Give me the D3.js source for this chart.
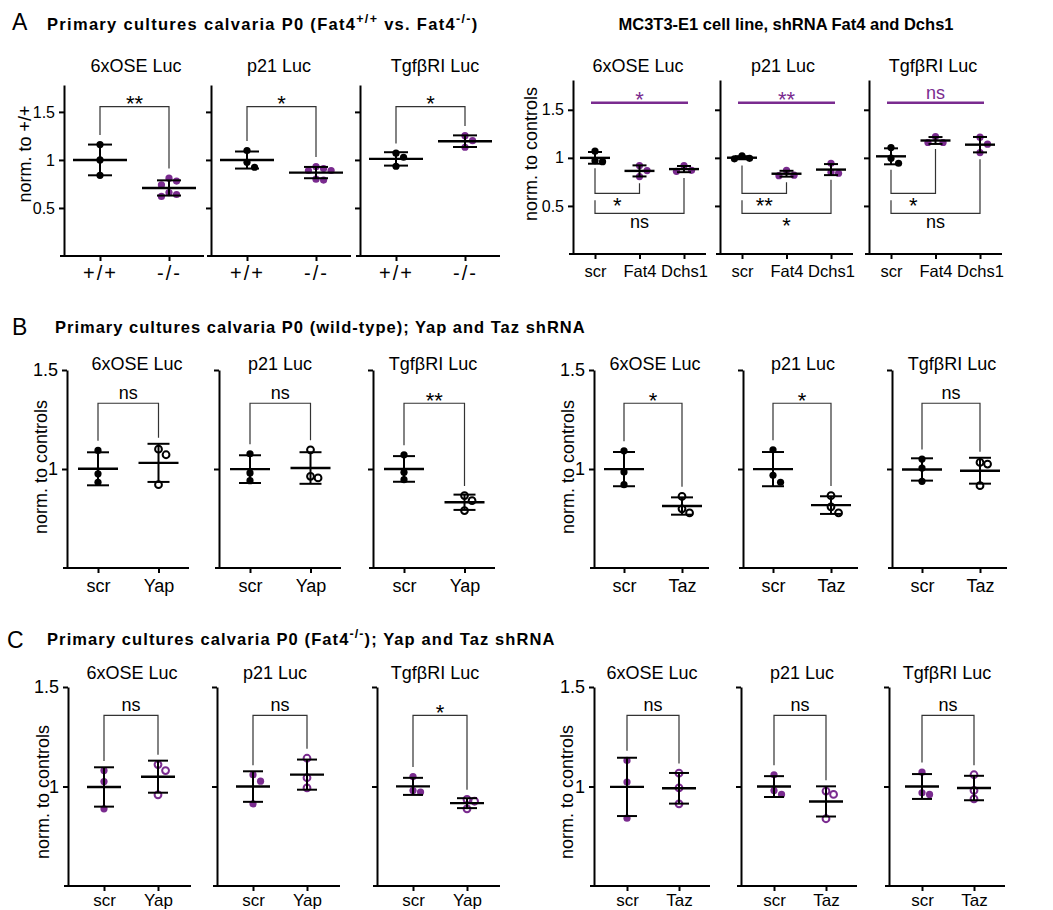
<!DOCTYPE html>
<html>
<head>
<meta charset="utf-8">
<script src="https://cdn.jsdelivr.net/npm/d3@7"></script>
<style>
	body { margin: 0; background: #fff; }
	text { font-family: "Liberation Sans", Arial, Helvetica, sans-serif; }
</style>
</head>
<body>
<svg id="fig" width="1053" height="910"></svg>
<script>
// reporters shown in every row
var reporters = ["6xOSE Luc", "p21 Luc", "TgfβRI Luc"];

// A, left: primary cultures Fat4+/+ vs Fat4-/-
var fatGroups = ["+/+", "-/-"];
var fatValues = [
	[[1.16, 1.0, 0.84], [0.78, 0.81, 0.74, 0.64, 0.62, 0.66]],
	[[1.097, 0.976, 0.924], [0.91, 0.93, 0.89, 0.89, 0.80, 0.79]],
	[[1.07, 1.028, 0.934], [1.253, 1.2, 1.132]]
];
var fatSig = ["**", "*", "*"];

// A, right: MC3T3-E1 shRNA
var mcGroups = ["scr", "Fat4", "Dchs1"];
var mcValues = [
	[[1.07, 0.97, 0.96], [0.92, 0.868, 0.805], [0.92, 0.86, 0.87]],
	[[1.02, 0.99, 0.995], [0.87, 0.815, 0.82], [0.944, 0.84, 0.85]],
	[[1.107, 0.997, 0.944], [1.222, 1.16, 1.16], [1.215, 1.142, 1.055]]
];
var mcAnovaSig = ["*", "**", "ns"];
var mcFat4Sig = ["*", "**", "*"];
var mcDchs1Sig = ["ns", "*", "ns"];

// B: wild-type, Yap / Taz shRNA
var yapGroups = ["scr", "Yap"];
var tazGroups = ["scr", "Taz"];
var wtYapValues = [
	[[1.094, 0.976, 0.933], [1.1, 1.072, 0.921]],
	[[1.077, 0.98, 0.941], [1.097, 0.963, 0.955]],
	[[1.072, 0.983, 0.946], [0.866, 0.84, 0.79]]
];
var wtYapSig = ["ns", "ns", "**"];
var wtTazValues = [
	[[1.092, 0.985, 0.921], [0.862, 0.799, 0.778]],
	[[1.097, 0.968, 0.933], [0.866, 0.809, 0.778]],
	[[1.05, 1.005, 0.938], [1.033, 1.025, 0.916]]
];
var wtTazSig = ["*", "*", "ns"];

// C: Fat4-/-, Yap / Taz shRNA
var koYapValues = [
	[[1.08, 1.025, 0.888], [1.11, 1.08, 0.958]],
	[[1.059, 1.027, 0.913], [1.142, 1.044, 0.993]],
	[[1.05, 0.98, 0.972], [0.935, 0.926, 0.888]]
];
var koYapSig = ["ns", "ns", "*"];
var koTazValues = [
	[[1.131, 1.022, 0.841], [1.067, 0.993, 0.913]],
	[[1.059, 0.98, 0.96], [0.977, 0.96, 0.838]],
	[[1.072, 0.968, 0.96], [1.059, 0.98, 0.938]]
];
var koTazSig = ["ns", "ns", "ns"];

var aTicks = [0.5, 1, 1.5];
var aTickLabels = ["0.5", "1", "1.5"];
var bcTicks = [1, 1.5];
var bcTickLabels = ["1", "1.5"];

var svg = d3.select("#fig");
var purple = "#7a2b8f";
var R = 3.6;

function swarm(vals, cx, y, r) {
	var placed = [];
	var out = [];
	var order = vals.map(function(v, i) { return i; })
		.sort(function(a, b) { return vals[b] - vals[a]; });
	var offs = [0, 1, -1, 2, -2, 3, -3];
	order.forEach(function(i) {
		var py = y(vals[i]), px = cx;
		for (var j = 0; j < offs.length; j++) {
			px = cx + offs[j] * r * 2.1;
			var ok = placed.every(function(p) {
				return Math.hypot(p[0] - px, p[1] - py) >= r * 2;
			});
			if (ok) break;
		}
		placed.push([px, py]);
		out[i] = [px, py];
	});
	return out;
}

function line(g, x1, y1, x2, y2, w, c) {
	g.append("line").attr("x1", x1).attr("y1", y1).attr("x2", x2).attr("y2", y2)
		.attr("stroke", c || "#000").attr("stroke-width", w);
}

function sigText(g, cx, ly, label, where, color) {
	var star = label.indexOf("*") >= 0;
	var yy;
	if (where === "above") yy = star ? ly + 4.5 : ly - 4;
	else yy = star ? ly + 20 : ly + 15;
	g.append("text").attr("x", cx).attr("y", yy).attr("text-anchor", "middle")
		.attr("font-size", star ? 22 : 18).attr("fill", color || "#000").text(label);
}

function legTop(y, v, s) {
	return Math.min(y(s.mean + s.sd), y(d3.max(v)) - R) - 6;
}
function legBottom(y, v, s) {
	return Math.max(y(s.mean - s.sd), y(d3.min(v)) + R) + 3;
}

function bracket(g, x1, e1, x2, e2, ly) {
	g.append("path").attr("d", "M" + x1 + "," + e1 + "V" + ly + "H" + x2 + "V" + e2)
		.attr("fill", "none").attr("stroke", "#333").attr("stroke-width", 1.2);
}

function drawRow(o) {
	var y = d3.scaleLinear().domain(o.domain).range([o.bottom, o.top]);

	svg.append("text")
		.attr("transform", "translate(" + o.labelPos[0] + "," + o.labelPos[1] + ") rotate(-90)")
		.attr("text-anchor", "middle").attr("dy", "0.35em").attr("font-size", 18)
		.text(o.ylabel);

	o.axes.forEach(function(ax, k) {
		var g = svg.append("g");
		var x = d3.scalePoint().domain(o.groups).range([ax + o.first, ax + o.last]);

		g.append("text").attr("x", ax + o.subDx[k]).attr("y", o.subY)
			.attr("text-anchor", "middle").attr("font-size", 18).text(reporters[k]);

		line(g, ax - 4, o.bottom, ax + o.len, o.bottom, 2);
		var xa = g.append("g").attr("transform", "translate(0," + o.bottom + ")")
			.call(d3.axisBottom(x).tickSize(5).tickPadding(o.catPad));
		xa.select(".domain").remove();
		xa.selectAll(".tick line").attr("stroke-width", 2);
		xa.selectAll("text").attr("font-size", o.catSize).attr("font-family", null)
			.attr("letter-spacing", o.catSpacing || 0);

		var ya = g.append("g").attr("transform", "translate(" + ax + ",0)")
			.call(d3.axisLeft(y).tickValues(o.ticks).tickSize(5).tickSizeOuter(0).tickPadding(4)
				.tickFormat(function(d, i) { return k === 0 ? o.tickLabels[i] : ""; }));
		ya.select(".domain").attr("stroke-width", 2);
		ya.selectAll(".tick line").attr("stroke-width", 2);
		ya.selectAll("text").attr("font-size", o.tickFont).attr("font-family", null);

		var vals = o.values[k];
		var stats = vals.map(function(v) { return { mean: d3.mean(v), sd: d3.deviation(v) }; });

		vals.forEach(function(v, gi) {
			var cx = x(o.groups[gi]);
			var st = o.pointStyle(gi);
			g.selectAll(null).data(swarm(v, cx, y, R)).enter().append("circle")
				.attr("cx", function(d) { return d[0]; })
				.attr("cy", function(d) { return d[1]; })
				.attr("r", st.open ? 3.4 : R)
				.attr("fill", st.open ? "none" : st.color)
				.attr("stroke", st.open ? st.color : "none")
				.attr("stroke-width", 2);
			var s = stats[gi];
			line(g, cx, y(s.mean - s.sd), cx, y(s.mean + s.sd), 2);
			line(g, cx - o.capW, y(s.mean + s.sd), cx + o.capW, y(s.mean + s.sd), 2);
			line(g, cx - o.capW, y(s.mean - s.sd), cx + o.capW, y(s.mean - s.sd), 2);
			line(g, cx - o.meanW, y(s.mean), cx + o.meanW, y(s.mean), 2.4);
		});

		o.sig(g, x, y, vals, stats, k);
	});
}

function topSig(level, labels) {
	return function(g, x, y, vals, stats, k) {
		var ly = y(level);
		var x1 = x.range()[0], x2 = x.range()[1];
		bracket(g, x1, legTop(y, vals[0], stats[0]), x2, legTop(y, vals[1], stats[1]), ly);
		sigText(g, (x1 + x2) / 2, ly, labels[k], "above");
	};
}

function mcSig(g, x, y, vals, stats, k) {
	var xs = mcGroups.map(function(d) { return x(d); });
	var top = y(1.574), l1 = y(0.631), l2 = y(0.423);
	line(g, xs[0] - 4, top, xs[2] + 4, top, 2.5, purple);
	sigText(g, (xs[0] + xs[2]) / 2, top, mcAnovaSig[k], "above", purple);
	bracket(g, xs[0], legBottom(y, vals[0], stats[0]), xs[1], legBottom(y, vals[1], stats[1]), l1);
	sigText(g, (xs[0] + xs[1]) / 2, l1, mcFat4Sig[k], "below");
	bracket(g, xs[0], l1 + 7, xs[2], legBottom(y, vals[2], stats[2]), l2);
	sigText(g, (xs[0] + xs[2]) / 2, l2, mcDchs1Sig[k], "below");
}

function style(firstColor, restColor, open) {
	return function(gi) {
		return gi === 0 ? { color: firstColor, open: false } : { color: restColor, open: open };
	};
}

// headings
function heading(x, yb, parts, anchor, spacing) {
	var t = svg.append("text").attr("x", x).attr("y", yb).attr("font-size", 16.5)
		.attr("font-weight", "bold").attr("text-anchor", anchor || "start")
		.attr("letter-spacing", spacing || 0);
	var sup = false;
	parts.forEach(function(p) {
		var ts = t.append("tspan").text(p[0]);
		if (p[1]) { ts.attr("dy", -7).attr("font-size", 12.5); sup = true; }
		else if (sup) { ts.attr("dy", 7); sup = false; }
	});
}

svg.append("text").attr("x", 12).attr("y", 30).attr("font-size", 23).text("A");
svg.append("text").attr("x", 12).attr("y", 335).attr("font-size", 23).text("B");
svg.append("text").attr("x", 7).attr("y", 648).attr("font-size", 23).text("C");

heading(47, 30, [["Primary cultures calvaria P0 (Fat4"], ["+/+", true], [" vs. Fat4"], ["-/-", true], [")"]], "start", 1.3);
heading(786, 30, [["MC3T3-E1 cell line, shRNA Fat4 and Dchs1"]], "middle", 0);
heading(55, 333, [["Primary cultures calvaria P0 (wild-type); Yap and Taz shRNA"]], "start", 1.0);
heading(47, 645, [["Primary cultures calvaria P0 (Fat4"], ["-/-", true], ["); Yap and Taz shRNA"]], "start", 1.1);

drawRow({
	groups: fatGroups, values: fatValues, axes: [64, 211, 360], first: 36, last: 105, len: 140,
	domain: [0, 1.78], bottom: 256, top: 85, ticks: aTicks, tickLabels: aTickLabels,
	tickFont: 16, catSize: 20, catSpacing: 2, catPad: 5, subDx: [72, 68, 75], subY: 72,
	ylabel: "norm. to +/+", labelPos: [25, 154], meanW: 27, capW: 12,
	pointStyle: style("#000", purple, false), sig: topSig(1.555, fatSig)
});

drawRow({
	groups: mcGroups, values: mcValues, axes: [573, 720, 869], first: 22, last: 111, len: 133,
	domain: [0, 1.81], bottom: 254, top: 80, ticks: aTicks, tickLabels: aTickLabels,
	tickFont: 16, catSize: 16.5, catPad: 6, subDx: [65, 63, 64], subY: 72,
	ylabel: "norm. to controls", labelPos: [531, 154], meanW: 15, capW: 7,
	pointStyle: style("#000", purple, false), sig: mcSig
});

drawRow({
	groups: yapGroups, values: wtYapValues, axes: [67, 219, 373], first: 31, last: 91.5, len: 122,
	domain: [0.5, 1.5], bottom: 568, top: 370, ticks: bcTicks, tickLabels: bcTickLabels,
	tickFont: 18, catSize: 18, catPad: 6, subDx: [70, 61, 60], subY: 370,
	ylabel: "norm. to controls", labelPos: [41, 467], meanW: 20, capW: 11,
	pointStyle: style("#000", "#000", true), sig: topSig(1.332, wtYapSig)
});

drawRow({
	groups: tazGroups, values: wtTazValues, axes: [594, 743, 892], first: 30, last: 88, len: 115,
	domain: [0.5, 1.5], bottom: 568, top: 370, ticks: bcTicks, tickLabels: bcTickLabels,
	tickFont: 18, catSize: 18, catPad: 6, subDx: [61, 60, 60], subY: 370,
	ylabel: "norm. to controls", labelPos: [568, 467], meanW: 20, capW: 11,
	pointStyle: style("#000", "#000", true), sig: topSig(1.332, wtTazSig)
});

drawRow({
	groups: yapGroups, values: koYapValues, axes: [68, 217, 377], first: 36, last: 90, len: 123,
	domain: [0.5, 1.5], bottom: 886, top: 687, ticks: bcTicks, tickLabels: bcTickLabels,
	tickFont: 18, catSize: 17, catPad: 3, subDx: [64, 58, 58], subY: 679,
	ylabel: "norm. to controls", labelPos: [43, 792], meanW: 17, capW: 10,
	pointStyle: style(purple, purple, true), sig: topSig(1.357, koYapSig)
});

drawRow({
	groups: tazGroups, values: koTazValues, axes: [594, 741, 889], first: 33, last: 85, len: 116,
	domain: [0.5, 1.5], bottom: 886, top: 687, ticks: bcTicks, tickLabels: bcTickLabels,
	tickFont: 18, catSize: 17, catPad: 3, subDx: [58, 61, 58], subY: 679,
	ylabel: "norm. to controls", labelPos: [567, 792], meanW: 17, capW: 10,
	pointStyle: style(purple, purple, true), sig: topSig(1.357, koTazSig)
});
</script>
</body>
</html>
